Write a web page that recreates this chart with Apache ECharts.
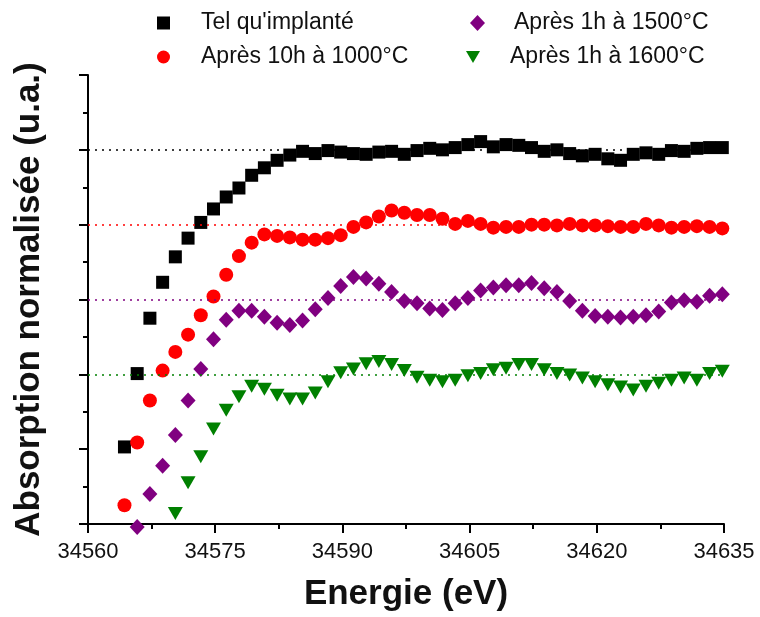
<!DOCTYPE html>
<html>
<head>
<meta charset="utf-8">
<script src="https://cdn.jsdelivr.net/npm/echarts@6/dist/echarts.min.js"></script>
<style>
  html, body { margin: 0; padding: 0; background: #fff; }
  #chart { width: 760px; height: 617px; }
</style>
</head>
<body>
<div id="chart"></div>
<script>
// energies (eV)
const energies = [34564.3, 34565.8, 34567.3, 34568.8, 34570.3, 34571.8, 34573.3, 34574.8, 34576.3, 34577.8,
  34579.3, 34580.8, 34582.3, 34583.8, 34585.3, 34586.8, 34588.3, 34589.8, 34591.3, 34592.8,
  34594.3, 34595.8, 34597.3, 34598.8, 34600.3, 34601.8, 34603.3, 34604.8, 34606.3, 34607.8,
  34609.3, 34610.8, 34612.3, 34613.8, 34615.3, 34616.8, 34618.3, 34619.8, 34621.3, 34622.8,
  34624.3, 34625.8, 34627.3, 34628.8, 34630.3, 34631.8, 34633.3, 34634.8]

const telQuImplante = [1.03, 2.01, 2.75, 3.23, 3.57, 3.82, 4.03, 4.21, 4.37, 4.49,
  4.66, 4.76, 4.86, 4.93, 4.98, 4.95, 4.99, 4.97, 4.95, 4.94,
  4.97, 4.98, 4.94, 4.99, 5.02, 5.00, 5.03, 5.07, 5.11, 5.04,
  5.07, 5.06, 5.03, 4.98, 5.00, 4.95, 4.92, 4.94, 4.88, 4.86,
  4.94, 4.96, 4.94, 4.99, 4.98, 5.02, 5.03, 5.03]

const apres1000 = [0.25, 1.09, 1.65, 2.05, 2.30, 2.53, 2.79, 3.04, 3.33, 3.58,
  3.76, 3.87, 3.85, 3.83, 3.80, 3.80, 3.82, 3.86, 3.97, 4.03,
  4.11, 4.19, 4.16, 4.13, 4.13, 4.08, 4.01, 4.05, 4.01, 3.96,
  3.97, 3.97, 4.00, 4.00, 3.99, 4.01, 3.99, 3.99, 3.98, 3.97,
  3.97, 4.01, 3.99, 3.96, 3.97, 3.98, 3.97, 3.95]

const apres1500 = [null, -0.04, 0.40, 0.78, 1.19, 1.65, 2.07, 2.47, 2.73, 2.85,
  2.85, 2.77, 2.69, 2.66, 2.72, 2.87, 3.02, 3.18, 3.30, 3.28,
  3.21, 3.10, 2.98, 2.95, 2.88, 2.86, 2.95, 3.02, 3.12, 3.16,
  3.19, 3.19, 3.22, 3.15, 3.10, 2.98, 2.85, 2.78, 2.77, 2.76,
  2.77, 2.79, 2.84, 2.96, 2.99, 2.97, 3.05, 3.07]

const apres1600 = [null, null, null, null, 0.14, 0.55, 0.90, 1.27, 1.52, 1.70,
  1.84, 1.80, 1.72, 1.67, 1.67, 1.75, 1.90, 2.02, 2.07, 2.14,
  2.17, 2.13, 2.05, 1.96, 1.92, 1.90, 1.92, 1.98, 2.01, 2.06,
  2.08, 2.13, 2.13, 2.06, 2.01, 1.99, 1.95, 1.90, 1.86, 1.83,
  1.79, 1.84, 1.88, 1.92, 1.95, 1.92, 2.01, 2.04]

const seriesNames = ["Tel qu'implanté", 'Après 10h à 1000°C', 'Après 1h à 1500°C', 'Après 1h à 1600°C']
const refLevels = [5, 4, 3, 2]

const colors = ['#000000', '#ff0000', '#800080', '#008000']
const triDown = 'path://M0,0 L10,0 L5,8.6 Z'
const symbols = ['rect', 'circle', 'diamond', triDown]
const sizes = [[13, 13], [14, 14], [15, 16], [15, 13]]

const font = '"Liberation Sans", Arial, sans-serif'

function pairs(ys) {
  return energies.map((x, i) => [x, ys[i]]).filter(p => p[1] !== null)
}

const allData = [telQuImplante, apres1000, apres1500, apres1600]

const chart = echarts.init(document.getElementById('chart'))

const series = allData.map((ys, i) => ({
  name: seriesNames[i],
  type: 'scatter',
  data: pairs(ys),
  symbol: symbols[i],
  symbolSize: sizes[i],
  clip: false,
  itemStyle: { color: colors[i], opacity: 1 },
  z: 3,
  markLine: {
    silent: true,
    symbol: ['none', 'none'],
    label: { show: false },
    lineStyle: { color: colors[i], type: [2, 5], width: 1.5 },
    data: [{ yAxis: refLevels[i] }]
  }
}))

// one legend per item so each can sit where the original has it
const legendPos = [[152, 6], [152, 40], [465, 6], [461, 40]]
const legendIcon = [[13, 13], [13, 13], [15, 16], [14, 13]]
const legends = seriesNames.map((name, i) => ({
  left: legendPos[i][0],
  top: legendPos[i][1],
  itemWidth: legendIcon[i][0],
  itemHeight: legendIcon[i][1],
  data: [{ name: name, icon: symbols[i] }],
  textStyle: { fontFamily: font, fontSize: 23, color: '#111', padding: [0, 0, 0, 39 - legendIcon[i][0]], lineHeight: 24 }
}))

const option = {
  backgroundColor: '#fff',
  animation: false,
  color: colors,
  legend: legends,
  grid: { left: 88, right: 36, top: 75, bottom: 93 },
  xAxis: {
    type: 'value',
    min: 34560,
    max: 34635,
    interval: 15,
    name: 'Energie (eV)',
    nameLocation: 'middle',
    nameGap: 53,
    nameTextStyle: { fontFamily: font, fontSize: 35, fontWeight: 'bold', color: '#111' },
    axisLine: { lineStyle: { color: '#000', width: 2 } },
    axisTick: { length: 9, lineStyle: { color: '#000', width: 2 } },
    minorTick: { show: true, splitNumber: 2, length: 5, lineStyle: { color: '#000', width: 2 } },
    axisLabel: { fontFamily: font, fontSize: 22, color: '#111', margin: 17, formatter: v => String(v) },
    splitLine: { show: false }
  },
  yAxis: {
    type: 'value',
    min: 0,
    max: 6,
    interval: 1,
    name: 'Absorption normalisée (u.a.)',
    nameLocation: 'middle',
    nameGap: 41,
    nameTextStyle: { fontFamily: font, fontSize: 35, fontWeight: 'bold', color: '#111' },
    axisLine: { show: true, lineStyle: { color: '#000', width: 2 } },
    axisTick: { length: 9, lineStyle: { color: '#000', width: 2 } },
    minorTick: { show: true, splitNumber: 2, length: 5, lineStyle: { color: '#000', width: 2 } },
    axisLabel: { show: false },
    splitLine: { show: false }
  },
  series: series
}

chart.setOption(option)
</script>
</body>
</html>
